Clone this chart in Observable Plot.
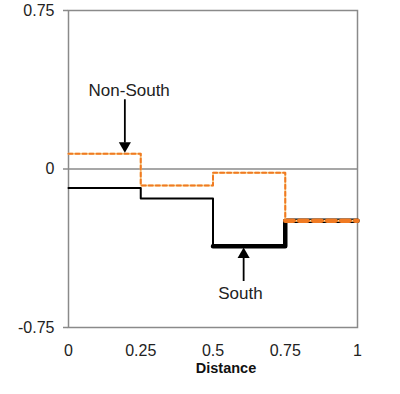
<!DOCTYPE html>
<html>
<head>
<meta charset="utf-8">
<script src="https://cdn.jsdelivr.net/npm/d3@7"></script>
<script src="https://cdn.jsdelivr.net/npm/@observablehq/plot@0.6"></script>
<style>
  html, body { margin: 0; padding: 0; background: #fff; }
  #chart { width: 400px; height: 394px; }
</style>
</head>
<body>
<div id="chart"></div>
<script>
// Step breakpoints (distance) and segment values
const breaks = [0, 0.25, 0.5, 0.75, 1];
const southValues = [-0.09, -0.14, -0.365, -0.245];
const nonSouthValues = [0.072, -0.078, -0.018, -0.245];
const xTicks = [0, 0.25, 0.5, 0.75, 1];
const yTicks = [0.75, 0, -0.75];
const xLabel = "Distance";
const annotations = [
  {label: "Non-South", x: 0.21, y: 0.37, ax: 0.195, ay1: 0.33, ay2: 0.085, dir: "down"},
  {label: "South", x: 0.595, y: -0.59, ax: 0.606, ay1: -0.53, ay2: -0.38, dir: "up"}
];

function stepPoints(values, from, to) {
  const pts = [];
  for (let i = from; i <= to; i++) {
    pts.push({x: breaks[i], y: values[Math.min(i, values.length - 1)]});
  }
  return pts;
}

const southThin = stepPoints(southValues, 0, 2);
const southThick = stepPoints(southValues, 2, 4);
const nonSouth = stepPoints(nonSouthValues, 0, 4);
const lastSeg = stepPoints(nonSouthValues, 3, 4);

const font = "'Liberation Sans', Arial, sans-serif";

const chart = Plot.plot({
  width: 400,
  height: 394,
  marginLeft: 68,
  marginRight: 43,
  marginTop: 10,
  marginBottom: 67,
  style: {fontFamily: font, fontSize: "16px", color: "#222", background: "#fff"},
  x: {domain: [0, 1], label: null},
  y: {domain: [-0.75, 0.75], label: null},
  marks: [
    Plot.ruleY([0], {stroke: "#8a8a8a", strokeWidth: 1.5}),
    Plot.frame({stroke: "#8a8a8a", strokeWidth: 1.5}),
    Plot.axisY({ticks: yTicks, tickFormat: d => String(d), tickSize: 5, tickPadding: 9, stroke: "#8a8a8a", strokeWidth: 1.5, fontSize: 16, label: null}),
    Plot.axisX({ticks: xTicks, tickFormat: d => String(d), tickSize: 0, tickPadding: 17, fontSize: 16, label: null}),
    // South: thin black then thick black
    Plot.line(southThin, {x: "x", y: "y", curve: "step-after", stroke: "#000", strokeWidth: 2}),
    Plot.line(southThick, {x: "x", y: "y", curve: "step-after", stroke: "#000", strokeWidth: 4.5}),
    // Non-South: light base and orange dashes
    Plot.line(nonSouth, {x: "x", y: "y", curve: "step-after", stroke: "#f8d79a", strokeWidth: 2}),
    Plot.line(nonSouth, {x: "x", y: "y", curve: "step-after", stroke: "#f07a22", strokeWidth: 2, strokeDasharray: "4,3"}),
    Plot.line(lastSeg, {x: "x", y: "y", curve: "step-after", stroke: "#f07a22", strokeWidth: 4.5, strokeDasharray: "8,6"}),
    // annotation arrows
    Plot.link(annotations, {x1: "ax", x2: "ax", y1: "ay1", y2: d => d.ay2 + (d.dir === "down" ? 0.04 : -0.04), stroke: "#000", strokeWidth: 1.8}),
    Plot.dot(annotations, {x: "ax", y: d => d.ay2 + (d.dir === "down" ? 0.025 : -0.025), symbol: "triangle", r: 4.5, fill: "#000", rotate: d => d.dir === "down" ? 180 : 0}),
    Plot.text(annotations, {x: "x", y: "y", text: "label", fontSize: 17, fill: "#222"}),
    Plot.text([xLabel], {frameAnchor: "bottom", x: [0.545], text: d => d, dy: 45, fontWeight: "bold", fontSize: 14.5, fill: "#111"})
  ]
});
document.getElementById("chart").appendChild(chart);
</script>
</body>
</html>
